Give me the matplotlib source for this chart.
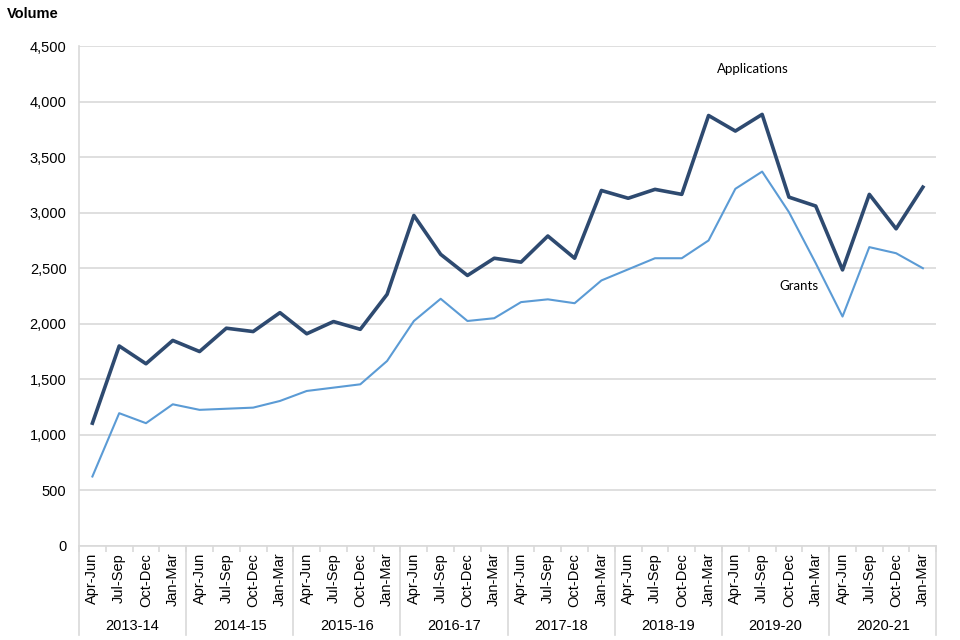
import matplotlib
matplotlib.use('Agg')
import matplotlib.pyplot as plt
import matplotlib.transforms as mtransforms

plt.rcParams['font.family'] = ['Liberation Sans', 'DejaVu Sans']

years = ['2013-14', '2014-15', '2015-16', '2016-17',
         '2017-18', '2018-19', '2019-20', '2020-21']
quarters = ['Apr-Jun', 'Jul-Sep', 'Oct-Dec', 'Jan-Mar']

applications = [1105, 1800, 1640, 1850, 1750, 1960, 1930, 2100,
                1910, 2020, 1950, 2265, 2975, 2625, 2435, 2590,
                2555, 2790, 2590, 3200, 3130, 3210, 3165, 3875,
                3735, 3885, 3140, 3060, 2485, 3165, 2855, 3230]
grants = [625, 1195, 1105, 1275, 1225, 1235, 1245, 1305,
          1395, 1425, 1455, 1665, 2025, 2225, 2025, 2050,
          2195, 2220, 2185, 2390, 2490, 2590, 2590, 2750,
          3215, 3370, 3005, 2545, 2065, 2690, 2635, 2500]

n = len(applications)
x = list(range(n))
labels = quarters * len(years)

fig = plt.figure(figsize=(9.6, 6.4), dpi=100)
ax = fig.add_axes([0.0823, 0.147, 0.893, 0.781])

grid_col = '#D9D9D9'
ax.plot(x, grants, color='#5B9BD5', lw=1.5, zorder=3)
ax.plot(x, applications, color='#2E4A70', lw=2.6, zorder=4)

ax.set_xlim(-0.5, n - 0.5)
ax.set_ylim(0, 4500)
ax.set_yticks(range(0, 4501, 500))
ax.set_yticklabels([f'{v:,}' for v in range(0, 4501, 500)])
ax.yaxis.grid(True, color=grid_col, lw=1.2)
ax.set_axisbelow(True)

for s in ['top', 'right']:
    ax.spines[s].set_visible(False)
ax.spines['left'].set_color(grid_col)
ax.spines['bottom'].set_color(grid_col)
ax.spines['left'].set_linewidth(1.2)
ax.spines['bottom'].set_linewidth(1.2)

ax.tick_params(axis='y', length=0, pad=9, labelsize=10.5, colors='#000000')
ax.set_xticks(x)
ax.set_xticklabels(labels, rotation=90, fontsize=10.5)
ax.tick_params(axis='x', which='major', length=0, pad=5)
ax.set_xticks([i - 0.5 for i in range(n + 1)], minor=True)
ax.tick_params(axis='x', which='minor', length=4, color=grid_col, width=1.2)

# year group separators and labels
trans = mtransforms.blended_transform_factory(ax.transData, ax.transAxes)
for k in range(len(years) + 1):
    xb = k * 4 - 0.5
    ax.plot([xb, xb], [0, -0.178], color=grid_col, lw=1.2,
            transform=trans, clip_on=False)
for k, yr in enumerate(years):
    ax.text(k * 4 + 1.5, -0.16, yr, transform=trans, ha='center',
            va='center', fontsize=10.5)

ax.text(24.65, 4290, 'Applications', ha='center', va='center',
        fontsize=9.5, family=['Lato', 'DejaVu Sans'])
ax.text(26.37, 2340, 'Grants', ha='center', va='center',
        fontsize=9.5, family=['Lato', 'DejaVu Sans'])

fig.text(0.007, 0.978, 'Volume', ha='left', va='center',
         fontsize=10.5, fontweight='bold')

fig.savefig('out.png', dpi=100)
